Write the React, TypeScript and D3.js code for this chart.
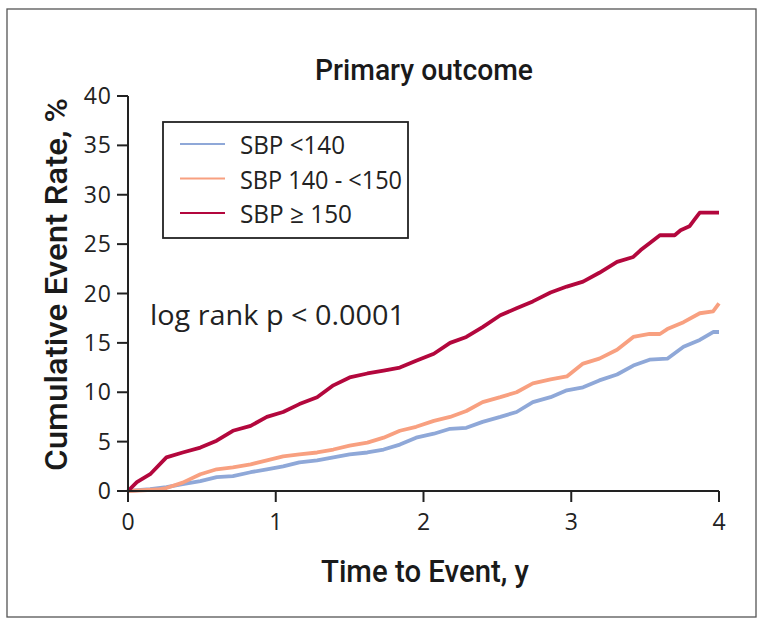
import React from "react";
import * as d3 from "d3";

const xTicks = [0, 1, 2, 3, 4];
const yTicks = [0, 5, 10, 15, 20, 25, 30, 35, 40];

const seriesNames = ["SBP <140", "SBP 140 - <150", "SBP \u2265 150"];
const seriesColors = ["#8fa8d8", "#f8a080", "#b3073d"];

const blueT = [0, 0.15, 0.26, 0.37, 0.49, 0.6, 0.71, 0.83, 0.94, 1.05, 1.16, 1.28, 1.39, 1.5, 1.62, 1.73, 1.84, 1.95, 2.07, 2.18, 2.29, 2.4, 2.52, 2.63, 2.74, 2.86, 2.97, 3.08, 3.19, 3.31, 3.42, 3.53, 3.65, 3.76, 3.87, 3.96, 4.0];
const blueV = [0, 0.2, 0.4, 0.7, 1.0, 1.4, 1.5, 1.9, 2.2, 2.5, 2.9, 3.1, 3.4, 3.7, 3.9, 4.2, 4.7, 5.4, 5.8, 6.3, 6.4, 7.0, 7.5, 8.0, 9.0, 9.5, 10.2, 10.5, 11.2, 11.8, 12.7, 13.3, 13.4, 14.6, 15.3, 16.1, 16.1];

const orangeT = [0, 0.2, 0.26, 0.37, 0.49, 0.6, 0.71, 0.83, 0.94, 1.05, 1.16, 1.28, 1.39, 1.5, 1.62, 1.73, 1.84, 1.95, 2.07, 2.18, 2.29, 2.4, 2.52, 2.63, 2.74, 2.86, 2.97, 3.08, 3.19, 3.31, 3.42, 3.53, 3.6, 3.65, 3.76, 3.87, 3.96, 4.0];
const orangeV = [0, 0.15, 0.3, 0.85, 1.7, 2.2, 2.4, 2.7, 3.1, 3.5, 3.7, 3.9, 4.2, 4.6, 4.9, 5.4, 6.1, 6.5, 7.1, 7.5, 8.1, 9.0, 9.5, 10.0, 10.9, 11.3, 11.6, 12.9, 13.4, 14.3, 15.6, 15.9, 15.9, 16.4, 17.1, 18.0, 18.2, 19.0];

const redT = [0, 0.06, 0.15, 0.26, 0.37, 0.49, 0.6, 0.71, 0.83, 0.94, 1.05, 1.16, 1.28, 1.39, 1.5, 1.62, 1.73, 1.84, 1.95, 2.07, 2.18, 2.29, 2.4, 2.52, 2.63, 2.74, 2.86, 2.97, 3.08, 3.19, 3.31, 3.42, 3.47, 3.53, 3.6, 3.7, 3.74, 3.8, 3.83, 3.87, 4.0];
const redV = [0, 0.9, 1.7, 3.4, 3.9, 4.4, 5.1, 6.1, 6.6, 7.5, 8.0, 8.8, 9.5, 10.7, 11.5, 11.9, 12.2, 12.5, 13.2, 13.9, 15.0, 15.6, 16.6, 17.8, 18.5, 19.2, 20.1, 20.7, 21.2, 22.1, 23.2, 23.7, 24.4, 25.1, 25.9, 25.9, 26.4, 26.8, 27.4, 28.2, 28.2];

const seriesT = [blueT, orangeT, redT];
const seriesV = [blueV, orangeV, redV];

const boldFont = "Roboto, 'Open Sans', sans-serif";
const regular = "'Open Sans', 'Noto Sans', sans-serif";
const ink = "#222";

export default function App() {
  const x = d3.scaleLinear().domain([0, 4]).range([128, 719]);
  const y = d3.scaleLinear().domain([0, 40]).range([491, 96]);
  const line = d3
    .line<[number, number]>()
    .x((d) => x(d[0]))
    .y((d) => y(d[1]))
    .curve(d3.curveLinear);

  const legendW = [105, 162, 112];

  return (
    <svg
      width={764}
      height={627}
      style={{ position: "absolute", left: 0, top: 0, display: "block", background: "#fff" }}
    >
      <rect x={7} y={9} width={749} height={608} fill="#fff" stroke="#555" strokeWidth={1.3} />
      <text
        x={315}
        y={80}
        textLength={218}
        lengthAdjust="spacingAndGlyphs"
        fontFamily={boldFont}
        fontWeight={500}
        fontSize={29}
        fill="#1a1a1a"
      >
        Primary outcome
      </text>

      {/* series */}
      {seriesT.map((ts, i) => (
        <path
          key={i}
          d={line(ts.map((t, j) => [t, seriesV[i][j]] as [number, number])) || ""}
          fill="none"
          stroke={seriesColors[i]}
          strokeWidth={3.8}
          strokeLinejoin="round"
        />
      ))}

      {/* y axis */}
      <line x1={x(0)} x2={x(0)} y1={y(40)} y2={y(0)} stroke={ink} strokeWidth={2} />
      {yTicks.map((t) => (
        <g key={t}>
          <line x1={x(0) - 11} x2={x(0)} y1={y(t)} y2={y(t)} stroke={ink} strokeWidth={2} />
          <text x={x(0) - 16} y={y(t) + 8} textAnchor="end" fontFamily={regular} fontSize={23} letterSpacing={1} fill={ink}>
            {t}
          </text>
        </g>
      ))}
      {/* x axis */}
      <line x1={x(0)} x2={x(4)} y1={y(0)} y2={y(0)} stroke={ink} strokeWidth={2} />
      {xTicks.map((t) => (
        <g key={t}>
          <line x1={x(t)} x2={x(t)} y1={y(0)} y2={y(0) + 11} stroke={ink} strokeWidth={2} />
          <text x={x(t)} y={530} textAnchor="middle" fontFamily={regular} fontSize={23} fill={ink}>
            {t}
          </text>
        </g>
      ))}

      <text
        x={321}
        y={582}
        textLength={208}
        lengthAdjust="spacingAndGlyphs"
        fontFamily={boldFont}
        fontWeight={500}
        fontSize={32}
        fill="#1a1a1a"
      >
        Time to Event, y
      </text>
      <text
        transform={`translate(67,471) rotate(-90)`}
        textLength={373}
        lengthAdjust="spacingAndGlyphs"
        fontFamily={boldFont}
        fontWeight={500}
        fontSize={31}
        fill="#1a1a1a"
      >
        Cumulative Event Rate, %
      </text>

      {/* legend */}
      <rect x={163} y={122} width={245} height={116} fill="#fff" stroke={ink} strokeWidth={1.8} />
      {seriesNames.map((n, i) => {
        const yy = 144 + i * 34.5;
        return (
          <g key={n}>
            <line x1={180} x2={225} y1={yy} y2={yy} stroke={seriesColors[i]} strokeWidth={2} />
            <text
              x={240}
              y={yy + 10}
              textLength={legendW[i]}
              lengthAdjust="spacingAndGlyphs"
              fontFamily={regular}
              fontSize={25}
              fill={ink}
            >
              {n}
            </text>
          </g>
        );
      })}

      <text
        x={150}
        y={325}
        textLength={255}
        lengthAdjust="spacingAndGlyphs"
        fontFamily={regular}
        fontSize={28}
        fill={ink}
      >
        log rank p &lt; 0.0001
      </text>
    </svg>
  );
}
